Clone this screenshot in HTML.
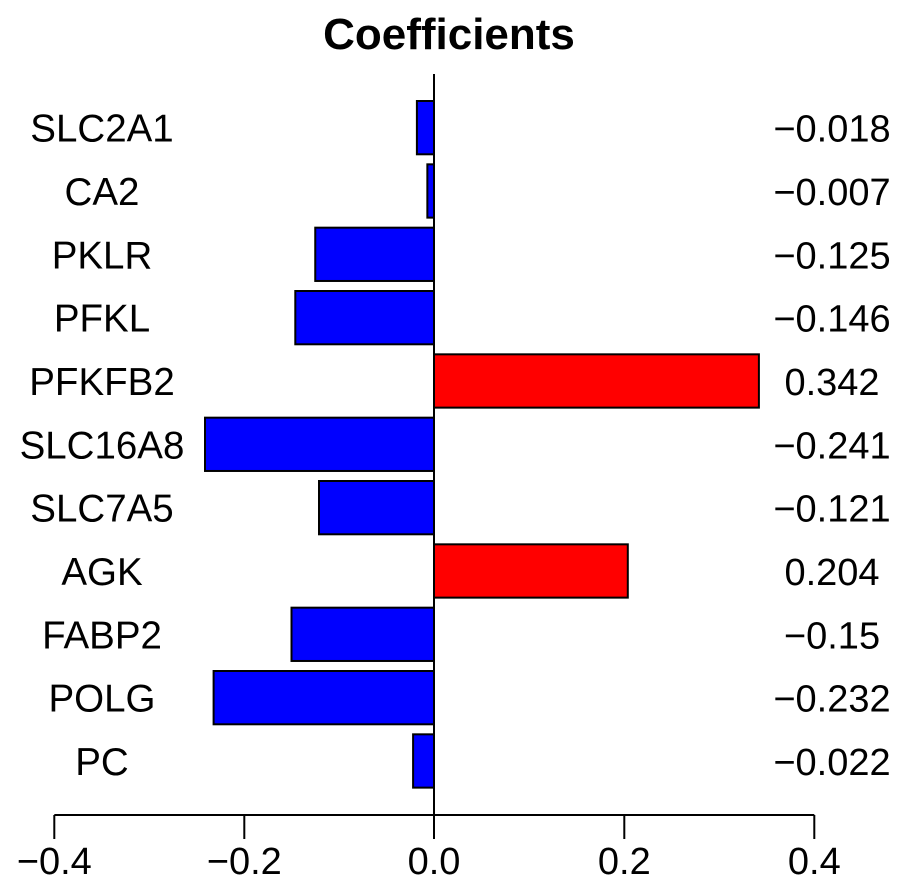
<!DOCTYPE html>
<html><head><meta charset="utf-8"><style>
html,body{margin:0;padding:0;background:#fff;}
svg{display:block;}
text{font-family:"Liberation Sans",Arial,sans-serif;fill:#000;}
</style></head><body>
<svg width="904" height="888" viewBox="0 0 904 888" xmlns="http://www.w3.org/2000/svg">
<text x="449" y="49" font-size="44" font-weight="bold" text-anchor="middle">Coefficients</text>
<g stroke="#000" stroke-width="2">
<rect x="416.9" y="101" width="17.1" height="53.3" fill="#0000ff"/>
<rect x="427.35" y="164.33" width="6.65" height="53.3" fill="#0000ff"/>
<rect x="315.25" y="227.67" width="118.75" height="53.3" fill="#0000ff"/>
<rect x="295.3" y="291" width="138.7" height="53.3" fill="#0000ff"/>
<rect x="434" y="354.33" width="324.9" height="53.3" fill="#ff0000"/>
<rect x="205" y="417.67" width="229" height="53.3" fill="#0000ff"/>
<rect x="319" y="481" width="115" height="53.3" fill="#0000ff"/>
<rect x="434" y="544.33" width="193.8" height="53.3" fill="#ff0000"/>
<rect x="291.5" y="607.67" width="142.5" height="53.3" fill="#0000ff"/>
<rect x="213.6" y="671" width="220.4" height="53.3" fill="#0000ff"/>
<rect x="413.1" y="734.33" width="20.9" height="53.3" fill="#0000ff"/>
<line x1="434" y1="74" x2="434" y2="815" fill="none"/>
<line x1="54.3" y1="815" x2="814.3" y2="815" fill="none"/>
<line x1="54.3" y1="815" x2="54.3" y2="839" fill="none"/>
<line x1="244.3" y1="815" x2="244.3" y2="839" fill="none"/>
<line x1="434" y1="815" x2="434" y2="839" fill="none"/>
<line x1="624.3" y1="815" x2="624.3" y2="839" fill="none"/>
<line x1="814.3" y1="815" x2="814.3" y2="839" fill="none"/>
</g>
<g font-size="38.5" text-anchor="middle">
<text x="102" y="141.7">SLC2A1</text>
<text x="102" y="205">CA2</text>
<text x="102" y="268.3">PKLR</text>
<text x="102" y="331.7">PFKL</text>
<text x="102" y="395">PFKFB2</text>
<text x="102" y="458.3">SLC16A8</text>
<text x="102" y="521.7">SLC7A5</text>
<text x="102" y="585">AGK</text>
<text x="102" y="648.3">FABP2</text>
<text x="102" y="711.7">POLG</text>
<text x="102" y="775">PC</text>
</g>
<g font-size="38" text-anchor="middle">
<text x="832" y="141.7">−0.018</text>
<text x="832" y="205">−0.007</text>
<text x="832" y="268.3">−0.125</text>
<text x="832" y="331.7">−0.146</text>
<text x="832" y="395">0.342</text>
<text x="832" y="458.3">−0.241</text>
<text x="832" y="521.7">−0.121</text>
<text x="832" y="585">0.204</text>
<text x="832" y="648.3">−0.15</text>
<text x="832" y="711.7">−0.232</text>
<text x="832" y="775">−0.022</text>
</g>
<g font-size="38" text-anchor="middle">
<text x="54.3" y="874">−0.4</text>
<text x="244.3" y="874">−0.2</text>
<text x="434" y="874">0.0</text>
<text x="624.3" y="874">0.2</text>
<text x="814.3" y="874">0.4</text>
</g>
</svg>
</body></html>
